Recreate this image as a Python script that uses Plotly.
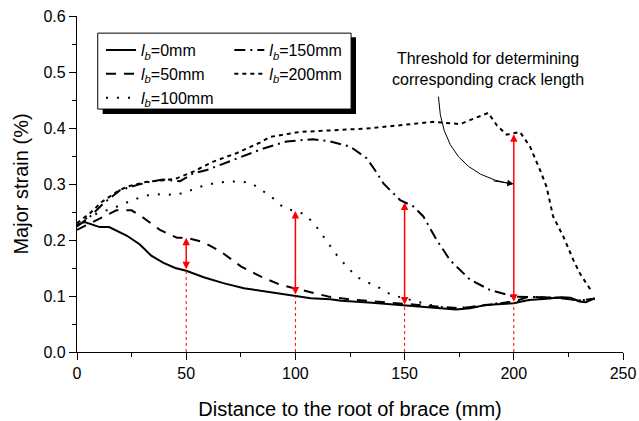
import plotly.graph_objects as go

# Datos: distancia (mm) y deformacion principal (%)
x_0 = [0, 3.5, 10.4, 14.7, 22.7, 28.8, 34, 39.6, 45, 50, 58, 67, 76.4, 90, 100, 107, 116, 121, 135, 150,
       162, 173.5, 180, 187, 200, 206.8, 215, 222, 226, 230, 233, 237]
y_0 = [0.227, 0.232, 0.223, 0.223, 0.208, 0.192, 0.172, 0.159, 0.150, 0.145, 0.1335, 0.123, 0.114, 0.106, 0.100, 0.096, 0.094, 0.0916, 0.088, 0.0838,
       0.080, 0.076, 0.078, 0.084, 0.087, 0.093, 0.095, 0.0976, 0.097, 0.090, 0.089, 0.096]

x_50 = [0, 7.4, 18, 25, 30.3, 38, 45.7, 50, 58, 65.6, 75, 84, 93, 102.5, 115, 125, 140, 150, 165, 175,
        190, 200, 207, 215, 225, 230, 237]
y_50 = [0.218, 0.233, 0.253, 0.253, 0.240, 0.218, 0.204, 0.204, 0.196, 0.180, 0.153, 0.135, 0.120, 0.111, 0.099, 0.094, 0.089, 0.086, 0.081, 0.078,
        0.085, 0.090, 0.099, 0.097, 0.097, 0.091, 0.095]

x_100 = [0, 2.9, 9, 16.6, 26.6, 32.6, 39.5, 44.9, 50.2, 56.3, 62.4, 68.5, 74.6, 80, 85.3, 90, 94.5, 100, 104.4, 109,
         112.7, 119.5, 128, 138.7, 144, 155.5, 161.6, 170, 180, 190, 200, 210, 220, 230, 237]
y_100 = [0.225, 0.236, 0.247, 0.257, 0.273, 0.280, 0.282, 0.280, 0.286, 0.295, 0.301, 0.304, 0.305, 0.301, 0.287, 0.274, 0.258, 0.252, 0.246, 0.227,
         0.207, 0.170, 0.134, 0.114, 0.102, 0.090, 0.084, 0.078, 0.080, 0.086, 0.089, 0.094, 0.097, 0.092, 0.095]

x_150 = [0, 6, 12, 19.7, 27.3, 33.4, 39.5, 47.2, 53.2, 59.4, 71.6, 85, 96, 108, 116, 125, 132.6, 136.4, 140.3, 148,
         154, 158.6, 164.7, 170.8, 180, 189, 199.8, 210, 220, 230, 237]
y_150 = [0.224, 0.242, 0.265, 0.289, 0.298, 0.304, 0.308, 0.305, 0.319, 0.325, 0.343, 0.363, 0.376, 0.380, 0.376, 0.367, 0.346, 0.325, 0.301, 0.271,
         0.260, 0.242, 0.200, 0.164, 0.129, 0.111, 0.099, 0.098, 0.097, 0.092, 0.095]

x_200 = [0, 6, 11.3, 18.2, 22.7, 31.9, 41, 45.6, 53.2, 62.4, 73, 83.8, 88.4, 102, 117.4, 132.6, 148, 163.2, 175.4, 181.5,
         188.3, 192.2, 196.7, 202.8, 207.4, 212, 215, 218, 222.7, 227.3, 230.3, 235]
y_200 = [0.230, 0.248, 0.268, 0.286, 0.295, 0.304, 0.307, 0.310, 0.322, 0.340, 0.355, 0.374, 0.384, 0.393, 0.396, 0.399, 0.405, 0.411, 0.407, 0.416,
         0.427, 0.405, 0.388, 0.393, 0.367, 0.325, 0.295, 0.242, 0.206, 0.164, 0.140, 0.112]

# Flechas rojas (umbral para determinar la longitud de grieta)
flecha_x = [50, 100, 150, 200]
flecha_sup = [0.204, 0.252, 0.267, 0.389]
flecha_inf = [0.145, 0.100, 0.082, 0.087]

fuente = 'Liberation Sans, Arial, sans-serif'

fig = go.Figure()

# Curvas: (x, y, nombre, estilo de linea, leyenda)
curvas = [
    (x_0, y_0, '0', 'solid', 'legend'),
    (x_50, y_50, '50', '10px,8px', 'legend'),
    (x_100, y_100, '100', '2px,9px', 'legend'),
    (x_150, y_150, '150', '11px,5px,2px,5px', 'legend2'),
    (x_200, y_200, '200', '4px,4px', 'legend2'),
]
for xs, ys, nombre, dash, leyenda in curvas:
    fig.add_trace(go.Scatter(
        x=xs, y=ys, mode='lines',
        name=f'<i>l</i><sub><i>b</i></sub>={nombre}mm',
        line=dict(color='black', width=2, dash=dash),
        legend=leyenda))

# Flechas dobles rojas y lineas punteadas hasta el eje
for fx, fs, fi in zip(flecha_x, flecha_sup, flecha_inf):
    fig.add_shape(type='line', x0=fx, x1=fx, y0=0, y1=fi, xref='x', yref='y',
                  line=dict(color='red', width=1, dash='dot'))
    fig.add_annotation(x=fx, y=fs, ax=fx, ay=fi, xref='x', yref='y', axref='x', ayref='y',
                       text='', showarrow=True, arrowside='end+start', arrowhead=2, startarrowhead=2,
                       arrowsize=1, startarrowsize=1, arrowwidth=1.5, arrowcolor='red')

# Flecha curva del texto explicativo
fig.add_shape(type='path', path='M 165.5,0.456 Q 167,0.32 199,0.30', xref='x', yref='y',
              line=dict(color='black', width=1))
fig.add_annotation(x=200, y=0.30, ax=190, ay=0.306, xref='x', yref='y', axref='x', ayref='y',
                   text='', showarrow=True, arrowhead=2, arrowsize=1.3, arrowwidth=1, arrowcolor='black')
fig.add_annotation(x=188, y=0.505, xref='x', yref='y', showarrow=False,
                   text='Threshold for determining<br>corresponding crack length',
                   font=dict(family=fuente, size=16, color='black'))

# Caja de la leyenda con sombra
fig.add_shape(type='rect', xref='paper', yref='paper', x0=0.047, x1=0.511, y0=0.708, y1=0.937,
              fillcolor='black', line=dict(width=0))
fig.add_shape(type='rect', xref='paper', yref='paper', x0=0.038, x1=0.502, y0=0.723, y1=0.949,
              fillcolor='white', line=dict(color='black', width=1))

eje = dict(showline=True, linecolor='black', linewidth=1.3, showgrid=False, zeroline=False,
           ticks='outside', ticklen=7, tickwidth=1.2, tickcolor='black', automargin=False,
           ticklabeloverflow='allow', tickfont=dict(family=fuente, size=16, color='black'))

fig.update_layout(
    width=639, height=421,
    margin=dict(l=77, r=16, t=16, b=69),
    plot_bgcolor='white', paper_bgcolor='white',
    font=dict(family=fuente, color='black'),
    xaxis=dict(eje, range=[0, 250], tick0=0, dtick=50,
               minor=dict(ticks='outside', dtick=25, ticklen=4, tickcolor='black'),
               title=dict(text='Distance to the root of brace (mm)', font=dict(size=20), standoff=20)),
    yaxis=dict(eje, range=[0, 0.6], tick0=0, dtick=0.1, tickformat='.1f',
               minor=dict(ticks='outside', dtick=0.05, ticklen=4, tickcolor='black'),
               title=dict(text='Major strain (%)', font=dict(size=20), standoff=9)),
    xaxis2=dict(overlaying='x', side='top', range=[0, 250], dtick=50, showticklabels=False,
                showline=True, linecolor='black', linewidth=1.3, showgrid=False, zeroline=False,
                ticks='inside', ticklen=7, tickcolor='black', automargin=False,
                minor=dict(ticks='inside', dtick=25, ticklen=4, tickcolor='black')),
    yaxis2=dict(overlaying='y', side='right', range=[0, 0.6], dtick=0.1, showticklabels=False,
                showline=True, linecolor='black', linewidth=1.3, showgrid=False, zeroline=False,
                ticks='inside', ticklen=7, tickcolor='black', automargin=False,
                minor=dict(ticks='inside', dtick=0.05, ticklen=4, tickcolor='black')),
    legend=dict(x=0.044, y=0.949, xanchor='left', yanchor='top', bgcolor='rgba(0,0,0,0)',
                font=dict(family=fuente, size=16), tracegroupgap=0),
    legend2=dict(x=0.279, y=0.949, xanchor='left', yanchor='top', bgcolor='rgba(0,0,0,0)',
                 font=dict(family=fuente, size=16), tracegroupgap=0),
    showlegend=True,
)

# Quitamos el margen del body para que la figura ocupe toda la ventana
fig.write_html("out.html", config={'displayModeBar': False},
               post_script="document.body.style.margin='0';document.body.style.overflow='hidden';")
